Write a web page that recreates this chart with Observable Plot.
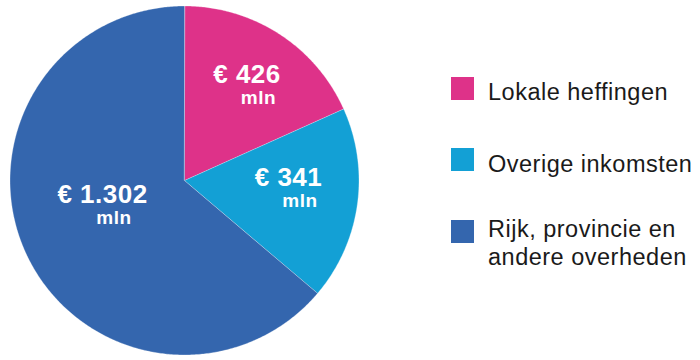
<!DOCTYPE html>
<html>
<head>
<meta charset="utf-8">
<script src="https://cdn.jsdelivr.net/npm/d3@7"></script>
<script src="https://cdn.jsdelivr.net/npm/@observablehq/plot@0.6"></script>
<style>
  html, body { margin: 0; padding: 0; background: #fff; }
  #wrap { position: relative; width: 700px; height: 360px; overflow: hidden; font-family: "Liberation Sans", Arial, Helvetica, sans-serif; }
  #pie { position: absolute; left: 0; top: 0; }
  #pie text { letter-spacing: 0.5px; }
  .sw { position: absolute; left: 451px; width: 23px; height: 23px; }
  .lt { position: absolute; left: 488px; font-size: 23.5px; line-height: 28px; color: #1a1a1a; letter-spacing: 0.5px; white-space: nowrap; }
</style>
</head>
<body>
<div id="wrap">
  <div id="pie"></div>
</div>
<script>
// ---- data ----
const categories = ["Lokale heffingen", "Overige inkomsten", "Rijk, provincie en\nandere overheden"];
const amounts = [426, 341, 1302];              // € mln
const amountLabels = ["€ 426", "€ 341", "€ 1.302"];
const unitLabel = "mln";
const sliceDegrees = [65.8, 64.5, 229.7];      // slice sizes as drawn in the picture
const colors = ["#de3289", "#13a0d5", "#3466ae"];

// ---- layout (not data) ----
const W = 368, H = 360, CX = 184, CY = 180, R = 174.5;
const labelPolar = [[32.66, 0.6637], [93.3, 0.597], [254.98, 0.4865]]; // angle (deg from north), radius fraction
const unitGap = [21, 21, 21];   // px below number baseline
const unitShift = 11.5;         // px right

// build slice polygons from the data
const rad = d => d * Math.PI / 180;
let start = 0;
const slices = categories.map((c, i) => {
  const a0 = start, a1 = start + sliceDegrees[i];
  start = a1;
  const pts = [{name: c, x: 0, y: 0}];
  const n = Math.max(2, Math.ceil((a1 - a0) / 0.5));
  for (let k = 0; k <= n; k++) {
    const a = rad(a0 + (a1 - a0) * k / n);
    pts.push({name: c, x: Math.sin(a), y: Math.cos(a)});
  }
  return pts;
});

const labels = categories.map((c, i) => {
  const [ang, f] = labelPolar[i];
  const x = f * Math.sin(rad(ang)), y = f * Math.cos(rad(ang));
  return {name: c, text: amountLabels[i], value: amounts[i], x, y,
          ux: x + unitShift / R, uy: y - unitGap[i] / R};
});

const plot = Plot.plot({
  width: W, height: H,
  marginTop: 0, marginRight: 0, marginBottom: 0, marginLeft: 0,
  x: {domain: [-CX / R, (W - CX) / R], axis: null},
  y: {domain: [-(H - CY) / R, CY / R], axis: null},
  style: {fontFamily: '"Liberation Sans", Arial, Helvetica, sans-serif', background: "transparent"},
  marks: [
    ...slices.map((pts, i) => Plot.line(pts, {x: "x", y: "y", fill: colors[i], stroke: "#ffffff", strokeWidth: 0.5, strokeOpacity: 0.6, curve: "linear-closed"})),
    Plot.text(labels, {x: "x", y: "y", text: "text", fill: "white", fontWeight: "bold", fontSize: 26, textAnchor: "middle", lineAnchor: "bottom"}),
    Plot.text(labels, {x: "ux", y: "uy", text: () => unitLabel, fill: "white", fontWeight: "bold", fontSize: 19, textAnchor: "middle", lineAnchor: "bottom"})
  ]
});
document.getElementById("pie").appendChild(plot);

// legend
const wrap = document.getElementById("wrap");
const swatchTop = [77, 148, 220];
const textTop = [78, 150, 215];
categories.forEach((c, i) => {
  const sw = document.createElement("div");
  sw.className = "sw";
  sw.style.top = swatchTop[i] + "px";
  sw.style.background = colors[i];
  wrap.appendChild(sw);
  const t = document.createElement("div");
  t.className = "lt";
  t.style.top = textTop[i] + "px";
  t.innerHTML = c.split("\n").join("<br>");
  wrap.appendChild(t);
});
</script>
</body>
</html>
